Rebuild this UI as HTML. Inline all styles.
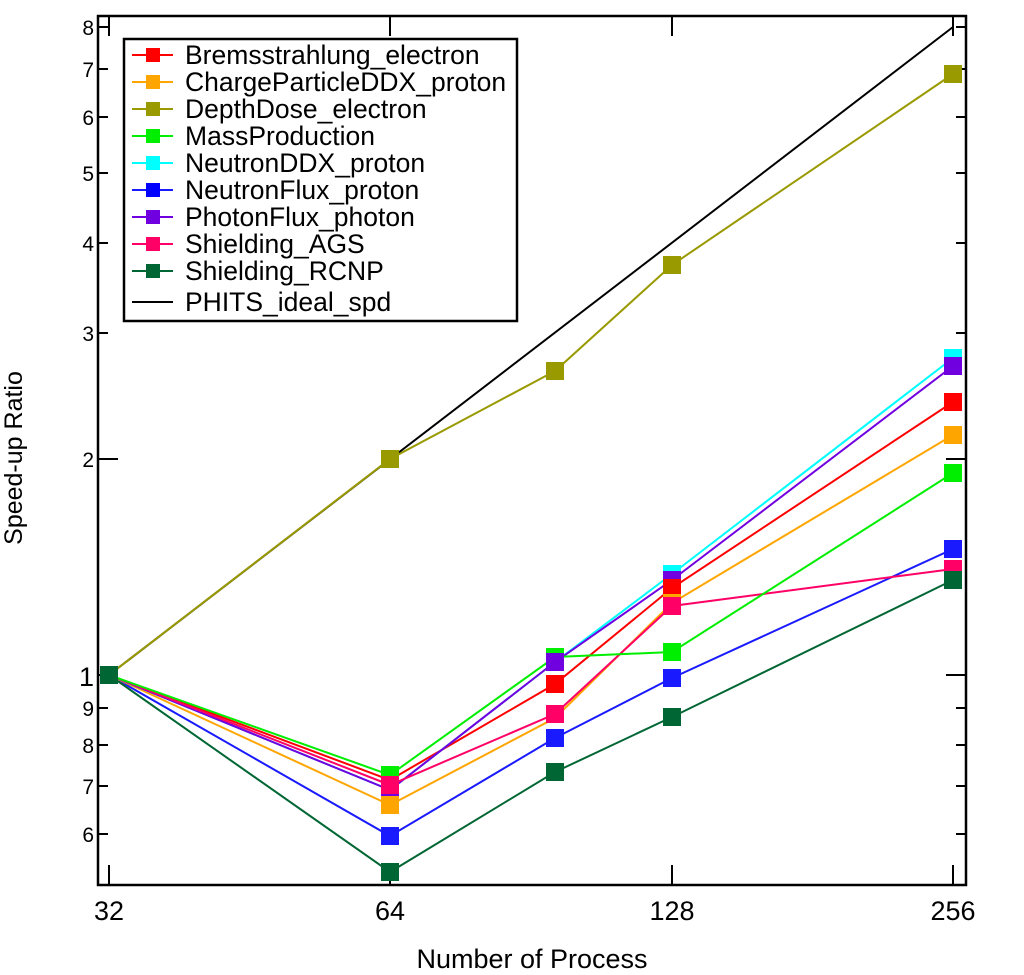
<!DOCTYPE html>
<html><head><meta charset="utf-8"><style>
body{margin:0;background:#fff;}
svg{display:block;font-family:"Liberation Sans",sans-serif;}
</style></head><body>
<svg width="1024" height="975" viewBox="0 0 1024 975">
<rect width="1024" height="975" fill="#fff"/>
<rect x="98" y="16" width="868" height="869" fill="none" stroke="#000" stroke-width="2.5"/>
<g stroke="#000" stroke-width="2">
<line x1="109" y1="885" x2="109" y2="865"/><line x1="390" y1="885" x2="390" y2="865"/><line x1="672" y1="885" x2="672" y2="865"/><line x1="953" y1="885" x2="953" y2="865"/>
<line x1="109" y1="16" x2="109" y2="36"/><line x1="390" y1="16" x2="390" y2="36"/><line x1="672" y1="16" x2="672" y2="36"/><line x1="953" y1="16" x2="953" y2="36"/>
<line x1="98" y1="675" x2="118" y2="675"/><line x1="966" y1="675" x2="946" y2="675"/>
<line x1="98" y1="459" x2="118" y2="459"/><line x1="966" y1="459" x2="946" y2="459"/>
<line x1="98" y1="333" x2="108" y2="333"/><line x1="966" y1="333" x2="956" y2="333"/>
<line x1="98" y1="243" x2="108" y2="243"/><line x1="966" y1="243" x2="956" y2="243"/>
<line x1="98" y1="173" x2="108" y2="173"/><line x1="966" y1="173" x2="956" y2="173"/>
<line x1="98" y1="117" x2="108" y2="117"/><line x1="966" y1="117" x2="956" y2="117"/>
<line x1="98" y1="69" x2="108" y2="69"/><line x1="966" y1="69" x2="956" y2="69"/>
<line x1="98" y1="27" x2="108" y2="27"/><line x1="966" y1="27" x2="956" y2="27"/>
<line x1="98" y1="708" x2="108" y2="708"/><line x1="966" y1="708" x2="956" y2="708"/>
<line x1="98" y1="745" x2="108" y2="745"/><line x1="966" y1="745" x2="956" y2="745"/>
<line x1="98" y1="786" x2="108" y2="786"/><line x1="966" y1="786" x2="956" y2="786"/>
<line x1="98" y1="834" x2="108" y2="834"/><line x1="966" y1="834" x2="956" y2="834"/>
</g>
<g font-size="21" text-anchor="end">
<text x="94" y="35">8</text><text x="94" y="77">7</text><text x="94" y="125">6</text><text x="94" y="181">5</text><text x="94" y="251">4</text><text x="94" y="341">3</text><text x="94" y="467">2</text><text x="94" y="686" font-size="27">1</text><text x="94" y="716">9</text><text x="94" y="753">8</text><text x="94" y="794">7</text><text x="94" y="842">6</text>
</g>
<g font-size="27" text-anchor="middle">
<text x="109" y="920">32</text><text x="390" y="920">64</text><text x="672" y="920">128</text><text x="953" y="920">256</text>
<text x="532" y="968">Number of Process</text>
<text transform="translate(22,458) rotate(-90)" font-size="25">Speed-up Ratio</text>
</g>
<g fill="none" stroke-width="2">
<polyline stroke="#000" points="109,675 953,27"/>
<polyline stroke="#999900" points="109,675 390,459 555,371 672,265 953,74"/>
<polyline stroke="#1a1aff" points="109,675 390,836 555,738 672,678 953,549"/>
<polyline stroke="#006633" points="109,675 390,872 555,772 672,717 953,580"/>
<polyline stroke="#ffa500" points="109,675 390,805 555,718 672,603 953,435"/>
<polyline stroke="#ff0000" points="109,675 390,780 555,684 672,588 953,402"/>
<polyline stroke="#00ffff" points="109,675 390,790 555,662 672,574 953,358"/>
<polyline stroke="#7000e0" points="109,675 390,790 555,662 672,580 953,366"/>
<polyline stroke="#ff0066" points="109,675 390,785 555,714 672,606 953,569"/>
<polyline stroke="#00ee00" points="109,675 390,775 555,657 672,652 953,473"/>
</g>
<g>
<g fill="#999900"><rect x="100" y="666" width="18" height="18"/><rect x="381" y="450" width="18" height="18"/><rect x="546" y="362" width="18" height="18"/><rect x="663" y="256" width="18" height="18"/><rect x="944" y="65" width="18" height="18"/></g>
<g fill="#00ee00"><rect x="381" y="766" width="18" height="18"/><rect x="546" y="648" width="18" height="18"/><rect x="663" y="643" width="18" height="18"/><rect x="944" y="464" width="18" height="18"/></g>
<g fill="#00ffff"><rect x="381" y="781" width="18" height="18"/><rect x="663" y="565" width="18" height="18"/><rect x="944" y="349" width="18" height="18"/></g>
<g fill="#7000e0"><rect x="381" y="781" width="18" height="18"/><rect x="546" y="653" width="18" height="18"/><rect x="663" y="571" width="18" height="18"/><rect x="944" y="357" width="18" height="18"/></g>
<g fill="#ff0000"><rect x="546" y="675" width="18" height="18"/><rect x="663" y="579" width="18" height="18"/><rect x="944" y="393" width="18" height="18"/></g>
<g fill="#ffa500"><rect x="381" y="796" width="18" height="18"/><rect x="663" y="594" width="18" height="18"/><rect x="944" y="426" width="18" height="18"/></g>
<g fill="#ff0066"><rect x="381" y="776" width="18" height="18"/><rect x="546" y="705" width="18" height="18"/><rect x="663" y="597" width="18" height="18"/><rect x="944" y="560" width="18" height="18"/></g>
<g fill="#1a1aff"><rect x="381" y="827" width="18" height="18"/><rect x="546" y="729" width="18" height="18"/><rect x="663" y="669" width="18" height="18"/><rect x="944" y="540" width="18" height="18"/></g>
<g fill="#006633"><rect x="100" y="666" width="18" height="18"/><rect x="381" y="863" width="18" height="18"/><rect x="546" y="763" width="18" height="18"/><rect x="663" y="708" width="18" height="18"/><rect x="944" y="571" width="18" height="18"/></g>
</g>
<rect x="124" y="39" width="393" height="282" fill="#fff" stroke="#000" stroke-width="2.5"/>
<g font-size="26.5">
<g transform="translate(0,55)"><line x1="132" x2="173" stroke="#ff0000" stroke-width="2"/><rect x="146" y="-7" width="14" height="14" fill="#ff0000"/><text x="185" y="9">Bremsstrahlung_electron</text></g>
<g transform="translate(0,82)"><line x1="132" x2="173" stroke="#ffa500" stroke-width="2"/><rect x="146" y="-7" width="14" height="14" fill="#ffa500"/><text x="185" y="9">ChargeParticleDDX_proton</text></g>
<g transform="translate(0,109)"><line x1="132" x2="173" stroke="#999900" stroke-width="2"/><rect x="146" y="-7" width="14" height="14" fill="#999900"/><text x="185" y="9">DepthDose_electron</text></g>
<g transform="translate(0,136)"><line x1="132" x2="173" stroke="#00ee00" stroke-width="2"/><rect x="146" y="-7" width="14" height="14" fill="#00ee00"/><text x="185" y="9">MassProduction</text></g>
<g transform="translate(0,163)"><line x1="132" x2="173" stroke="#00ffff" stroke-width="2"/><rect x="146" y="-7" width="14" height="14" fill="#00ffff"/><text x="185" y="9">NeutronDDX_proton</text></g>
<g transform="translate(0,190)"><line x1="132" x2="173" stroke="#1a1aff" stroke-width="2"/><rect x="146" y="-7" width="14" height="14" fill="#0000ff"/><text x="185" y="9">NeutronFlux_proton</text></g>
<g transform="translate(0,217)"><line x1="132" x2="173" stroke="#7000e0" stroke-width="2"/><rect x="146" y="-7" width="14" height="14" fill="#7000e0"/><text x="185" y="9">PhotonFlux_photon</text></g>
<g transform="translate(0,244)"><line x1="132" x2="173" stroke="#ff0066" stroke-width="2"/><rect x="146" y="-7" width="14" height="14" fill="#ff0066"/><text x="185" y="9">Shielding_AGS</text></g>
<g transform="translate(0,271)"><line x1="132" x2="173" stroke="#006633" stroke-width="2"/><rect x="146" y="-7" width="14" height="14" fill="#006633"/><text x="185" y="9">Shielding_RCNP</text></g>
<g transform="translate(0,302)"><line x1="132" x2="173" stroke="#000" stroke-width="2"/><text x="185" y="9">PHITS_ideal_spd</text></g>
</g>
</svg>
</body></html>
